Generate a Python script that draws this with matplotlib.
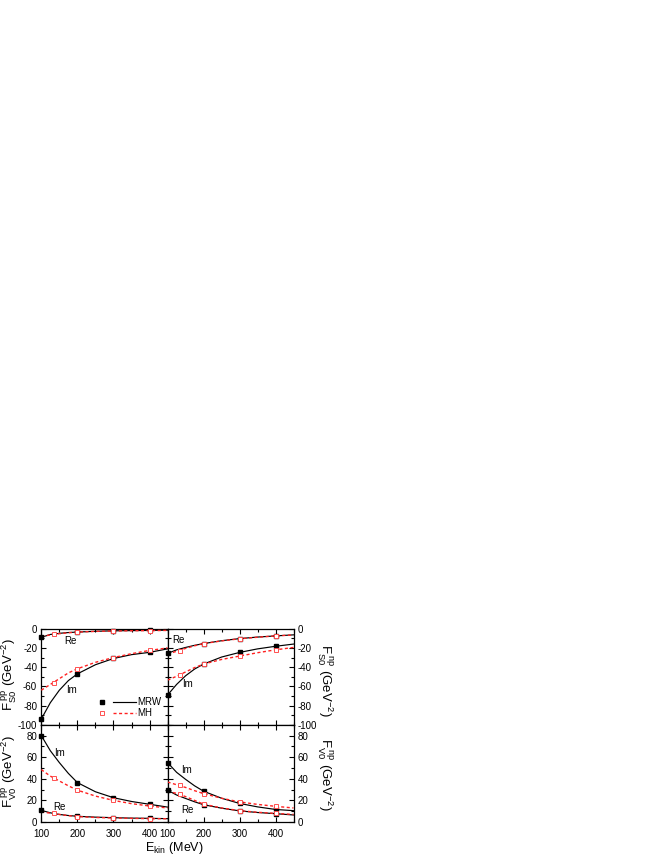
import numpy as np
import matplotlib
matplotlib.use("Agg")
import matplotlib.pyplot as plt
from matplotlib.ticker import MultipleLocator

plt.rcParams['font.family'] = ['Liberation Sans', 'DejaVu Sans']
plt.rcParams['mathtext.fontset'] = 'custom'
plt.rcParams['mathtext.rm'] = 'Liberation Sans'
plt.rcParams['mathtext.it'] = 'Liberation Sans'
plt.rcParams['mathtext.default'] = 'rm'
plt.rcParams['axes.unicode_minus'] = False

e_line = [100, 125, 150, 175, 200, 250, 300, 350, 400, 450]
# point energies
e_mrw = [100, 200, 300, 400]
e_mh = [134, 200, 300, 400]

# F_S0 pp
s0pp_re_mrw = [-9.0, -6.0, -4.8, -4.0, -3.5, -2.7, -2.2, -2.0, -1.8, -1.5]
s0pp_im_mrw = [-94, -77, -64, -54, -47, -37.5, -31, -27, -24.6, -21]
s0pp_re_mh = [-8.0, -6.5, -5.2, -4.2, -3.5, -2.8, -2.4, -2.1, -2.0, -1.8]
s0pp_im_mh = [-64, -58, -52, -46, -41.7, -35, -30, -26, -22.6, -20]
s0pp_re_mrw_pts = [-9.0, -3.5, -2.2, -1.8]
s0pp_im_mrw_pts = [-94, -47, -31, -24.6]
s0pp_re_mh_pts = [-6.0, -3.5, -2.4, -2.0]
s0pp_im_mh_pts = [-56.6, -41.7, -30, -22.6]

# F_S0 np
s0np_re_mrw = [-25.7, -22, -19.5, -17.3, -15.5, -12.5, -10.3, -8.7, -7.5, -6.4]
s0np_im_mrw = [-69, -58, -49, -42, -36.8, -29.5, -24.7, -21, -18.3, -16]
s0np_re_mh = [-26.4, -23.5, -20.5, -17.8, -15.5, -12.7, -10.5, -8.9, -7.5, -6.5]
s0np_im_mh = [-53.5, -49.5, -45, -40.5, -36.8, -32, -28.5, -25, -22, -19.5]
s0np_re_mrw_pts = [-25.7, -15.5, -10.3, -7.5]
s0np_im_mrw_pts = [-69, -36.8, -24.7, -18.3]
s0np_re_mh_pts = [-23, -15.5, -10.5, -7.5]
s0np_im_mh_pts = [-48, -36.8, -28.5, -22]

# F_V0 pp
v0pp_re_mrw = [10.8, 8.5, 7.0, 6.0, 5.3, 4.5, 4.0, 3.6, 3.4, 3.1]
v0pp_im_mrw = [80, 66, 55, 45, 36.5, 28, 22.5, 19, 16.4, 13.8]
v0pp_re_mh = [9.3, 8.2, 7.0, 5.9, 5.0, 4.2, 3.7, 3.4, 3.1, 3.0]
v0pp_im_mh = [48.5, 42.5, 38, 33.5, 29.5, 24, 20, 17, 14.8, 13]
v0pp_re_mrw_pts = [10.8, 5.3, 4.0, 3.4]
v0pp_im_mrw_pts = [80, 36.5, 22.5, 16.4]
v0pp_re_mh_pts = [8.0, 5.0, 3.7, 3.1]
v0pp_im_mh_pts = [41, 29.5, 20, 14.8]

# F_V0 np
v0np_re_mrw = [29.4, 25, 21.8, 18.7, 16, 12.8, 10.3, 8.8, 7.7, 6.5]
v0np_im_mrw = [55, 46, 39.5, 33.5, 28.5, 22, 17.2, 14, 11.6, 10.5]
v0np_re_mh = [28.5, 26.5, 23.5, 20, 16.5, 13, 10.5, 9, 8, 7]
v0np_im_mh = [37, 34.5, 32, 29, 26.3, 22, 18.6, 16.3, 14.5, 13]
v0np_re_mrw_pts = [29.4, 16, 10.3, 7.7]
v0np_im_mrw_pts = [55, 28.5, 17.2, 11.6]
v0np_re_mh_pts = [26, 16.5, 10.5, 8]
v0np_im_mh_pts = [34, 26.3, 18.6, 14.5]

W, H = 663, 858
fig = plt.figure(figsize=(W / 100, H / 100), dpi=100)

def fx(px):
    return px / W

def fy(py):
    return 1 - py / H

xl, xm, xr = 41.3, 167.6, 293.5
yt, ymid, yb = 628.7, 724.8, 822.0
ax_tl = fig.add_axes([fx(xl), fy(ymid), fx(xm - xl), (ymid - yt) / H])
ax_tr = fig.add_axes([fx(xm), fy(ymid), fx(xr - xm), (ymid - yt) / H])
ax_bl = fig.add_axes([fx(xl), fy(yb), fx(xm - xl), (yb - ymid) / H])
ax_br = fig.add_axes([fx(xm), fy(yb), fx(xr - xm), (yb - ymid) / H])

red = '#ff2020'
sq_mrw = dict(marker='s', ms=2.6, color='k')
sq_mh = dict(marker='s', ms=3.0, mfc='white', mec='#ff5050', mew=0.7)
dash = (0, (2.2, 1.8))

def draw(ax, re_mrw, im_mrw, re_mh, im_mh, pts):
    ax.plot(e_line, re_mrw, color='k', lw=0.85, zorder=2)
    ax.plot(e_line, im_mrw, color='k', lw=0.85, zorder=2)
    ax.plot(e_line, re_mh, color=red, lw=1.0, ls=dash, zorder=3)
    ax.plot(e_line, im_mh, color=red, lw=1.0, ls=dash, zorder=3)
    rm, imm, rh, imh = pts
    for v in (rm, imm):
        ax.plot(e_mrw, v, ls='none', zorder=4, clip_on=False, **sq_mrw)
    for v in (rh, imh):
        ax.plot(e_mh, v, ls='none', zorder=5, clip_on=False, **sq_mh)

draw(ax_tl, s0pp_re_mrw, s0pp_im_mrw, s0pp_re_mh, s0pp_im_mh,
     (s0pp_re_mrw_pts, s0pp_im_mrw_pts, s0pp_re_mh_pts, s0pp_im_mh_pts))
draw(ax_tr, s0np_re_mrw, s0np_im_mrw, s0np_re_mh, s0np_im_mh,
     (s0np_re_mrw_pts, s0np_im_mrw_pts, s0np_re_mh_pts, s0np_im_mh_pts))
draw(ax_bl, v0pp_re_mrw, v0pp_im_mrw, v0pp_re_mh, v0pp_im_mh,
     (v0pp_re_mrw_pts, v0pp_im_mrw_pts, v0pp_re_mh_pts, v0pp_im_mh_pts))
draw(ax_br, v0np_re_mrw, v0np_im_mrw, v0np_re_mh, v0np_im_mh,
     (v0np_re_mrw_pts, v0np_im_mrw_pts, v0np_re_mh_pts, v0np_im_mh_pts))

fs = 7
for ax in (ax_tl, ax_tr, ax_bl, ax_br):
    ax.set_xlim(100, 450)
    ax.xaxis.set_major_locator(MultipleLocator(100))
    ax.xaxis.set_minor_locator(MultipleLocator(50))
    ax.tick_params(which='both', direction='in', top=True, right=True,
                   width=0.8, labelsize=fs)
    ax.tick_params(which='major', length=3.5, pad=3)
    ax.tick_params(which='minor', length=2)
    for s in ax.spines.values():
        s.set_linewidth(0.9)

for ax in (ax_tl, ax_tr):
    ax.set_ylim(-100, 0)
    ax.yaxis.set_major_locator(MultipleLocator(20))
    ax.yaxis.set_minor_locator(MultipleLocator(10))
    ax.tick_params(labelbottom=False)
for ax in (ax_bl, ax_br):
    ax.set_ylim(0, 90)
    ax.yaxis.set_major_locator(MultipleLocator(20))
    ax.yaxis.set_minor_locator(MultipleLocator(10))
    ax.tick_params(axis='x', pad=5)
for ax in (ax_tr, ax_br):
    ax.tick_params(labelleft=False, labelright=True)

# Re / Im annotations
tfs = 7
ax_tl.text(163, -13, 'Re', fontsize=tfs, ha='left', va='center')
ax_tl.text(168, -64, 'Im', fontsize=tfs, ha='left', va='center')
ax_tr.text(112, -12, 'Re', fontsize=tfs, ha='left', va='center')
ax_tr.text(141, -58, 'Im', fontsize=tfs, ha='left', va='center')
ax_bl.text(135, 64, 'Im', fontsize=tfs, ha='left', va='center')
ax_bl.text(132, 14, 'Re', fontsize=tfs, ha='left', va='center')
ax_br.text(138, 48, 'Im', fontsize=tfs, ha='left', va='center')
ax_br.text(138, 11.5, 'Re', fontsize=tfs, ha='left', va='center')

# legend drawn by hand, as in the original figure
for yy, lab, mk, ln in ((0.236, 'MRW', sq_mrw, dict(color='k', lw=0.85)),
                        (0.122, 'MH', sq_mh, dict(color=red, lw=1.0, ls=dash))):
    ax_tl.plot([0.479], [yy], transform=ax_tl.transAxes, ls='none', **mk)
    ax_tl.plot([0.567, 0.749], [yy, yy], transform=ax_tl.transAxes, **ln)
    ax_tl.text(0.757, yy, lab, transform=ax_tl.transAxes, fontsize=tfs,
               ha='left', va='center')

lfs = 9.5
fig.text(fx(9.5), fy(675), r'F$_{S0}^{\ pp}$ (GeV$^{-2}$)', rotation=90,
         ha='center', va='center', fontsize=lfs)
fig.text(fx(9.5), fy(772), r'F$_{V0}^{\ pp}$ (GeV$^{-2}$)', rotation=90,
         ha='center', va='center', fontsize=lfs)
fig.text(fx(325), fy(680), r'F$_{S0}^{\ np}$ (GeV$^{-2}$)', rotation=-90,
         ha='center', va='center', fontsize=lfs)
fig.text(fx(325), fy(774), r'F$_{V0}^{\ np}$ (GeV$^{-2}$)', rotation=-90,
         ha='center', va='center', fontsize=lfs)
fig.text(fx(174), fy(848), r'E$_{kin}$ (MeV)', ha='center', va='center',
         fontsize=9)

fig.savefig('out.png', dpi=100)
